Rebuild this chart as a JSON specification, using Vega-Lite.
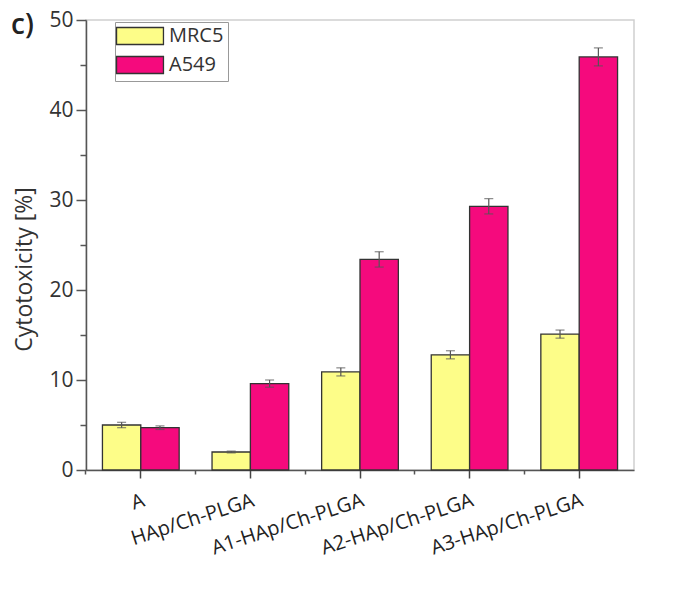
{
  "$schema": "https://vega.github.io/schema/vega-lite/v6.json",
  "width": 548,
  "height": 450,
  "autosize": {"type": "none"},
  "padding": {"left": 86, "top": 20, "right": 48, "bottom": 120},
  "background": "white",
  "title": {"text": "c)", "anchor": "start", "frame": "group", "orient": "top", "offset": 0, "baseline": "alphabetic", "dx": -75, "dy": 53, "fontSize": 28, "fontWeight": 600, "font": "Open Sans", "color": "#222"},
  "config": {
    "view": {"stroke": "#cfcfcf", "strokeWidth": 1.5},
    "font": "Open Sans"
  },
  "data": {
    "values": [
      {"sample": "A", "cell": "MRC5", "value": 5.0, "err": 0.3},
      {"sample": "A", "cell": "A549", "value": 4.7, "err": 0.2},
      {"sample": "HAp/Ch-PLGA", "cell": "MRC5", "value": 2.0, "err": 0.1},
      {"sample": "HAp/Ch-PLGA", "cell": "A549", "value": 9.6, "err": 0.4},
      {"sample": "A1-HAp/Ch-PLGA", "cell": "MRC5", "value": 10.9, "err": 0.45},
      {"sample": "A1-HAp/Ch-PLGA", "cell": "A549", "value": 23.4, "err": 0.85},
      {"sample": "A2-HAp/Ch-PLGA", "cell": "MRC5", "value": 12.8, "err": 0.45},
      {"sample": "A2-HAp/Ch-PLGA", "cell": "A549", "value": 29.3, "err": 0.85},
      {"sample": "A3-HAp/Ch-PLGA", "cell": "MRC5", "value": 15.1, "err": 0.45},
      {"sample": "A3-HAp/Ch-PLGA", "cell": "A549", "value": 45.9, "err": 1.0}
    ]
  },
  "transform": [
    {"calculate": "datum.value - datum.err", "as": "lo"},
    {"calculate": "datum.value + datum.err", "as": "hi"}
  ],
  "encoding": {
    "xOffset": {"field": "cell", "type": "nominal", "sort": ["MRC5", "A549"], "scale": {"paddingInner": 0, "paddingOuter": 0}}
  },
  "layer": [
    {
      "mark": {"type": "bar", "stroke": "#333", "strokeWidth": 1.3},
      "encoding": {
        "x": {"field": "sample", "type": "nominal", "sort": ["A", "HAp/Ch-PLGA", "A1-HAp/Ch-PLGA", "A2-HAp/Ch-PLGA", "A3-HAp/Ch-PLGA"],
          "scale": {"paddingInner": 0.3, "paddingOuter": 0.15},
          "axis": {"orient": "bottom", "title": null, "labelAngle": -18, "labelAlign": "right", "labelBaseline": "top", "labelPadding": 12, "labelFontSize": 20, "labelColor": "#222", "tickSize": 8, "tickColor": "#444", "tickWidth": 1.5, "domainColor": "#555", "domainWidth": 1.5}},
        "y": {"field": "value", "type": "quantitative", "scale": {"domain": [0, 50], "nice": false},
          "axis": {"orient": "left", "title": "Cytotoxicity [%]", "titleFontSize": 23, "titleFontWeight": "normal", "titleColor": "#333", "titlePadding": 12, "titleY": 249, "values": [0, 10, 20, 30, 40, 50], "labelFontSize": 21, "labelColor": "#333", "labelPadding": 3, "tickSize": 10, "tickColor": "#555", "tickWidth": 1.5, "domainColor": "#555", "domainWidth": 1.5, "grid": false}},
        "color": {"field": "cell", "type": "nominal", "sort": ["MRC5", "A549"],
          "scale": {"domain": ["MRC5", "A549"], "range": ["#fdfd88", "#f50a7d"]},
          "legend": {"orient": "none", "legendX": 29, "legendY": 2, "title": null, "padding": 4, "strokeColor": "#999", "fillColor": "white", "symbolType": "M-2.76,-1L2.76,-1L2.76,1L-2.76,1Z", "symbolSize": 289, "symbolOffset": 11, "symbolStrokeColor": "#333", "symbolStrokeWidth": 1.3, "symbolOpacity": 1, "labelFontSize": 20, "labelColor": "#333", "labelOffset": 19, "rowPadding": 5, "labelLimit": 200}}
      }
    },
    {
      "mark": {"type": "rule", "color": "#555", "strokeWidth": 1.2},
      "encoding": {
        "x": {"field": "sample", "type": "nominal", "sort": ["A", "HAp/Ch-PLGA", "A1-HAp/Ch-PLGA", "A2-HAp/Ch-PLGA", "A3-HAp/Ch-PLGA"],
          "axis": {"orient": "bottom", "title": null, "labels": false, "domain": false, "bandPosition": -0.2143, "tickSize": 4, "tickColor": "#555", "tickWidth": 1.5}},
        "y": {"field": "lo", "type": "quantitative", "scale": {"domain": [0, 50], "nice": false},
          "axis": {"orient": "left", "title": null, "labels": false, "domain": false, "grid": false, "values": [5, 15, 25, 35, 45], "tickSize": 6, "tickColor": "#555", "tickWidth": 1.5}},
        "y2": {"field": "hi"}
      }
    },
    {
      "mark": {"type": "tick", "color": "#555", "size": 9, "thickness": 1.2},
      "encoding": {
        "x": {"field": "sample", "type": "nominal", "sort": ["A", "HAp/Ch-PLGA", "A1-HAp/Ch-PLGA", "A2-HAp/Ch-PLGA", "A3-HAp/Ch-PLGA"], "axis": null},
        "y": {"field": "hi", "type": "quantitative", "scale": {"domain": [0, 50], "nice": false}, "axis": null}
      }
    },
    {
      "mark": {"type": "tick", "color": "#555", "size": 9, "thickness": 1.2},
      "encoding": {
        "x": {"field": "sample", "type": "nominal", "sort": ["A", "HAp/Ch-PLGA", "A1-HAp/Ch-PLGA", "A2-HAp/Ch-PLGA", "A3-HAp/Ch-PLGA"], "axis": null},
        "y": {"field": "lo", "type": "quantitative", "scale": {"domain": [0, 50], "nice": false}, "axis": null}
      }
    }
  ],
  "resolve": {"axis": {"x": "independent", "y": "independent"}}
}
